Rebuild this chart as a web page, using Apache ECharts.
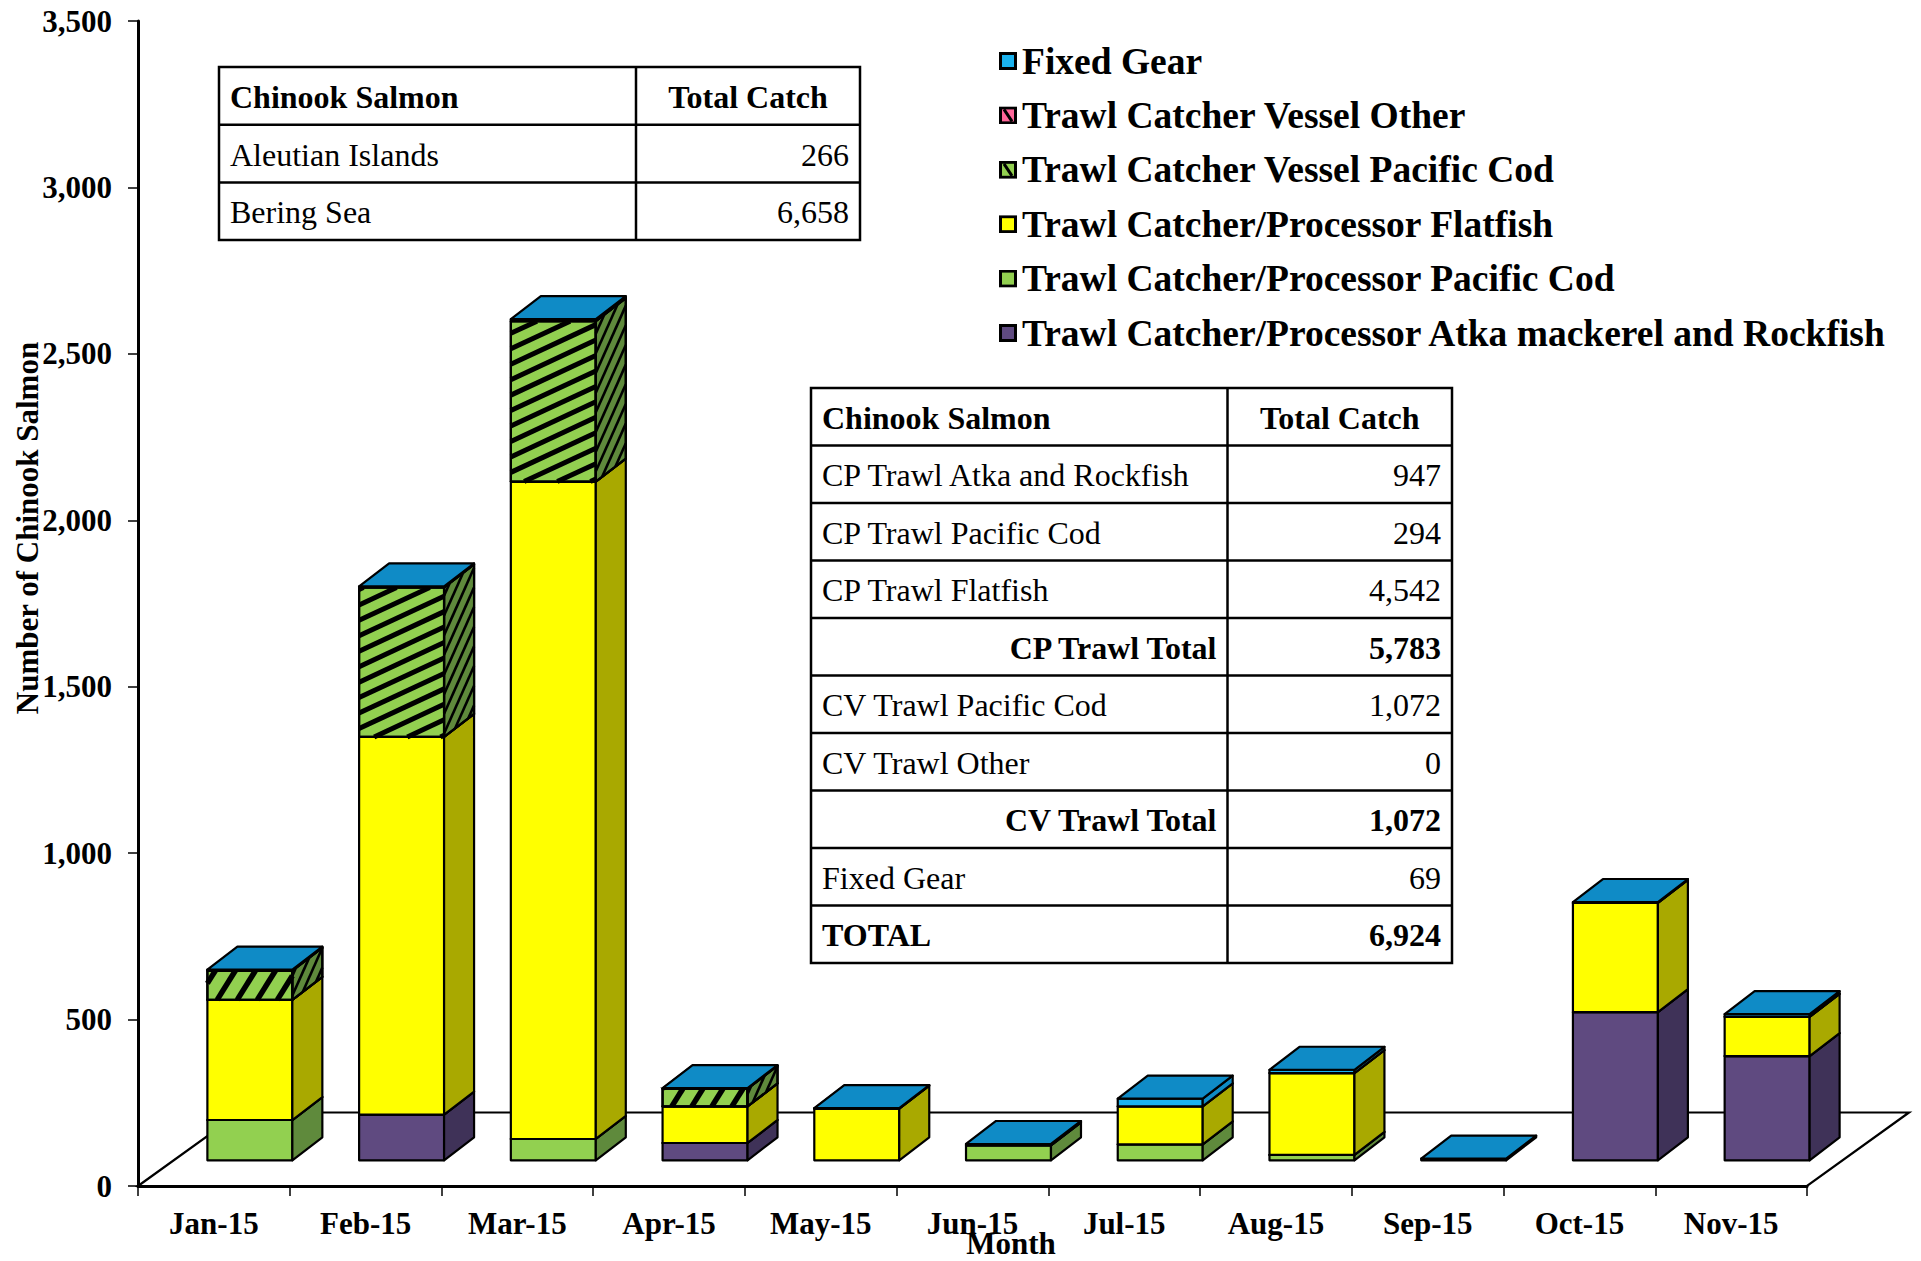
<!DOCTYPE html>
<html>
<head>
<meta charset="utf-8">
<script src="https://cdn.jsdelivr.net/npm/echarts@6/dist/echarts.min.js"></script>
<style>
html,body{margin:0;padding:0;background:#fff;}
#chart{width:1921px;height:1261px;}
</style>
</head>
<body>
<div id="chart"></div>
<script>
// ---------------- DATA ----------------
const months = ['Jan-15','Feb-15','Mar-15','Apr-15','May-15','Jun-15','Jul-15','Aug-15','Sep-15','Oct-15','Nov-15'];
const cpAtkaRockfish = [0, 137, 0, 52, 0, 0, 0, 0, 0, 445, 313];
const cpPacificCod   = [121, 0, 64, 0, 0, 45, 48, 16, 0, 0, 0];
const cpFlatfish     = [361, 1135, 1975, 110, 155, 0, 114, 246, 0, 328, 118];
const cvPacificCod   = [88, 449, 482, 53, 0, 0, 0, 0, 0, 0, 0];
const cvOther        = [0, 0, 0, 0, 0, 0, 0, 0, 0, 0, 0];
const fixedGear      = [3, 3, 6, 2, 2, 4, 23, 10, 5, 3, 8];

const table1Labels = ['Chinook Salmon', 'Aleutian Islands', 'Bering Sea'];
const table1Values = ['Total Catch', '266', '6,658'];
const table1Kinds  = ['head', 'normal', 'normal'];

const table2Labels = ['Chinook Salmon', 'CP Trawl Atka and Rockfish', 'CP Trawl Pacific Cod', 'CP Trawl Flatfish',
  'CP Trawl Total', 'CV Trawl Pacific Cod', 'CV Trawl Other', 'CV Trawl Total', 'Fixed Gear', 'TOTAL'];
const table2Values = ['Total Catch', '947', '294', '4,542', '5,783', '1,072', '0', '1,072', '69', '6,924'];
const table2Kinds  = ['head', 'normal', 'normal', 'normal', 'subtotal', 'normal', 'normal', 'subtotal', 'normal', 'total'];

const yAxisTitle = 'Number of Chinook Salmon';
const xAxisTitle = 'Month';

// ---------------- STYLE / GEOMETRY ----------------
const FONT = '"Liberation Serif", "Times New Roman", serif';
const GRID = {left: 138, top: 21, width: 1669, height: 1165};
const FRONT_DX = 36, FRONT_DY = -25.7;   // bar front plane offset from axis plane
const DEPTH_DX = 30, DEPTH_DY = -23;     // bar depth
const FLOOR_DX = 102, FLOOR_DY = -73.5;  // floor depth
const BAR_RATIO = 0.56;

const seriesDefs = [
  {name: 'Trawl Catcher/Processor Atka mackerel and Rockfish', data: cpAtkaRockfish, front: '#5F4A80', side: '#3F3258', top: '#4E3D6B', hatch: false},
  {name: 'Trawl Catcher/Processor Pacific Cod', data: cpPacificCod, front: '#92D050', side: '#5F8A3C', top: '#7AB043', hatch: false},
  {name: 'Trawl Catcher/Processor Flatfish', data: cpFlatfish, front: '#FFFF00', side: '#A9A900', top: '#D6D600', hatch: false},
  {name: 'Trawl Catcher Vessel Pacific Cod', data: cvPacificCod, front: '#92D050', side: '#5F8A3C', top: '#7AB043', hatch: true},
  {name: 'Trawl Catcher Vessel Other', data: cvOther, front: '#FF6699', side: '#B34770', top: '#D9577F', hatch: true},
  {name: 'Fixed Gear', data: fixedGear, front: '#1BB3EF', side: '#0E8BC5', top: '#0F8BC6', hatch: false}
];

// ---------------- HELPERS ----------------
function clipSeg(p, q, poly) {
  let t0 = 0, t1 = 1;
  const d = [q[0] - p[0], q[1] - p[1]];
  let cx = 0, cy = 0;
  poly.forEach(v => { cx += v[0]; cy += v[1]; });
  cx /= poly.length; cy /= poly.length;
  for (let i = 0; i < poly.length; i++) {
    const a = poly[i], b = poly[(i + 1) % poly.length];
    let n = [-(b[1] - a[1]), b[0] - a[0]];
    if (n[0] * (cx - a[0]) + n[1] * (cy - a[1]) < 0) n = [-n[0], -n[1]];
    const num = n[0] * (p[0] - a[0]) + n[1] * (p[1] - a[1]);
    const den = n[0] * d[0] + n[1] * d[1];
    if (Math.abs(den) < 1e-9) { if (num < 0) return null; continue; }
    const t = -num / den;
    if (den > 0) t0 = Math.max(t0, t); else t1 = Math.min(t1, t);
    if (t0 > t1) return null;
  }
  return [[p[0] + t0 * d[0], p[1] + t0 * d[1]], [p[0] + t1 * d[0], p[1] + t1 * d[1]]];
}

function hatchLines(poly, angleDeg, spacing, width) {
  const th = angleDeg * Math.PI / 180;
  const d = [Math.cos(th), -Math.sin(th)];
  const n = [Math.sin(th), Math.cos(th)];
  let mn = Infinity, mx = -Infinity;
  poly.forEach(v => { const c = v[0] * n[0] + v[1] * n[1]; mn = Math.min(mn, c); mx = Math.max(mx, c); });
  const els = [];
  const start = Math.ceil(mn / spacing) * spacing;
  for (let c = start; c <= mx; c += spacing) {
    const P = [n[0] * c, n[1] * c];
    const L = 5000;
    const seg = clipSeg([P[0] - L * d[0], P[1] - L * d[1]], [P[0] + L * d[0], P[1] + L * d[1]], poly);
    if (seg) {
      els.push({type: 'line', shape: {x1: seg[0][0], y1: seg[0][1], x2: seg[1][0], y2: seg[1][1]},
        style: {stroke: '#000', lineWidth: width, lineCap: 'butt'}});
    }
  }
  return els;
}

function makeRender(def) {
  return function (params, api) {
    const cat = api.value(0), base = api.value(1), top = api.value(2);
    if (top - base <= 0) return null;
    const pb = api.coord([cat, base]);
    const pt = api.coord([cat, top]);
    const bw = api.size([1, 0])[0] * BAR_RATIO;
    const x0 = pb[0] + FRONT_DX - bw / 2, x1 = x0 + bw;
    const yb = pb[1] + FRONT_DY, yt = pt[1] + FRONT_DY;
    const front = [[x0, yb], [x1, yb], [x1, yt], [x0, yt]];
    const side = [[x1, yb], [x1 + DEPTH_DX, yb + DEPTH_DY], [x1 + DEPTH_DX, yt + DEPTH_DY], [x1, yt]];
    const topF = [[x0, yt], [x1, yt], [x1 + DEPTH_DX, yt + DEPTH_DY], [x0 + DEPTH_DX, yt + DEPTH_DY]];
    const stroke = {stroke: '#000', lineWidth: 2.2, lineJoin: 'round'};
    const children = [
      {type: 'polygon', shape: {points: front}, style: Object.assign({fill: def.front}, stroke)},
      {type: 'polygon', shape: {points: side}, style: Object.assign({fill: def.side}, stroke)},
      {type: 'polygon', shape: {points: topF}, style: Object.assign({fill: def.top}, stroke)}
    ];
    if (def.hatch) {
      const h = yb - yt;
      const fl = h < 60 ? hatchLines(front, 58, 17, 5.5) : hatchLines(front, 25, 14, 5);
      const sl = hatchLines(side, 66, 8, 2.6);
      fl.concat(sl).forEach(e => children.push(e));
      children.push({type: 'polygon', shape: {points: front}, style: Object.assign({fill: 'none'}, stroke)});
      children.push({type: 'polygon', shape: {points: side}, style: Object.assign({fill: 'none'}, stroke)});
    }
    return {type: 'group', children: children};
  };
}

function legendIcon(fill, hatch) {
  const svg = '<svg xmlns="http://www.w3.org/2000/svg" width="18" height="18">' +
    '<rect x="1.5" y="1.5" width="15" height="15" fill="' + fill + '" stroke="#000" stroke-width="3"/>' +
    (hatch ? '<line x1="5" y1="3" x2="13" y2="15" stroke="#000" stroke-width="3"/>' : '') + '</svg>';
  return 'image://data:image/svg+xml;charset=utf-8,' + encodeURIComponent(svg);
}

function buildTable(x, y, w, split, rowH, labels, values, kinds) {
  const els = [];
  const n = labels.length;
  const pad = 11;
  els.push({type: 'rect', shape: {x: x, y: y, width: w, height: rowH * n}, style: {fill: '#fff', stroke: '#000', lineWidth: 2.5}, z: 20});
  for (let i = 1; i < n; i++) {
    els.push({type: 'line', shape: {x1: x, y1: y + rowH * i, x2: x + w, y2: y + rowH * i}, style: {stroke: '#000', lineWidth: 2.5}, z: 21});
  }
  els.push({type: 'line', shape: {x1: split, y1: y, x2: split, y2: y + rowH * n}, style: {stroke: '#000', lineWidth: 2.5}, z: 21});
  for (let i = 0; i < n; i++) {
    const k = kinds[i];
    const cy = y + rowH * (i + 0.5) + 1;
    const bold = k !== 'normal';
    let lx = x + pad, la = 'left';
    if (k === 'subtotal') { lx = split - pad; la = 'right'; }
    els.push({type: 'text', z: 22, style: {text: labels[i], x: lx, y: cy, align: la, verticalAlign: 'middle',
      fontFamily: FONT, fontSize: 32, fontWeight: bold ? 'bold' : 'normal', fill: '#000'}});
    let vx = x + w - pad, va = 'right';
    if (k === 'head') { vx = (split + x + w) / 2; va = 'center'; }
    els.push({type: 'text', z: 22, style: {text: values[i], x: vx, y: cy, align: va, verticalAlign: 'middle',
      fontFamily: FONT, fontSize: 32, fontWeight: bold ? 'bold' : 'normal', fill: '#000'}});
  }
  return els;
}

// ---------------- BUILD ----------------
const cumulative = months.map(() => 0);
const series = [];
series.push({
  type: 'custom', name: '__floor', z: 1, silent: true,
  data: [[0]],
  renderItem: function (params, api) {
    const cs = params.coordSys;
    const fl = [cs.x, cs.y + cs.height], fr = [cs.x + cs.width, cs.y + cs.height];
    const pts = [fl, fr, [fr[0] + FLOOR_DX, fr[1] + FLOOR_DY], [fl[0] + FLOOR_DX, fl[1] + FLOOR_DY]];
    return {type: 'polygon', shape: {points: pts}, style: {fill: '#fff', stroke: '#000', lineWidth: 2.2}};
  }
});
seriesDefs.forEach(def => {
  const data = def.data.map((v, i) => {
    const b = cumulative[i];
    cumulative[i] += v;
    return [i, b, b + v];
  });
  series.push({
    type: 'custom', name: def.name, z: 2,
    encode: {x: 0, y: [1, 2]},
    itemStyle: {color: def.front},
    data: data,
    renderItem: makeRender(def)
  });
});

const legendData = seriesDefs.slice().reverse().map(def => ({name: def.name, icon: legendIcon(def.front, def.hatch)}));

const graphic = []
  .concat(buildTable(219, 67, 641, 636, 57.7, table1Labels, table1Values, table1Kinds))
  .concat(buildTable(811, 388, 641, 1227.5, 57.5, table2Labels, table2Values, table2Kinds));
graphic.push({type: 'text', z: 22, rotation: Math.PI / 2, x: 27, y: 528,
  style: {text: yAxisTitle, align: 'center', verticalAlign: 'middle', fontFamily: FONT, fontSize: 31, fontWeight: 'bold', fill: '#000'}});
graphic.push({type: 'text', z: 22, x: 1011, y: 1243,
  style: {text: xAxisTitle, align: 'center', verticalAlign: 'middle', fontFamily: FONT, fontSize: 31, fontWeight: 'bold', fill: '#000'}});

const chart = echarts.init(document.getElementById('chart'), null, {renderer: 'svg', width: 1921, height: 1261});
chart.setOption({
  backgroundColor: '#fff',
  animation: false,
  grid: Object.assign({containLabel: false, outerBoundsMode: 'none'}, GRID),
  xAxis: {
    type: 'category', data: months, boundaryGap: true,
    axisLine: {show: true, lineStyle: {color: '#000', width: 3}},
    axisTick: {show: true, length: 10, inside: false, lineStyle: {color: '#000', width: 1.5}},
    axisLabel: {margin: 22, color: '#000', fontFamily: FONT, fontSize: 31, fontWeight: 'bold', interval: 0},
    splitLine: {show: false}, z: 3
  },
  yAxis: {
    type: 'value', min: 0, max: 3500, interval: 500,
    axisLine: {show: true, lineStyle: {color: '#000', width: 3}},
    axisTick: {show: true, length: 10, inside: false, lineStyle: {color: '#000', width: 1.5}},
    axisLabel: {margin: 26, color: '#000', fontFamily: FONT, fontSize: 31, fontWeight: 'bold',
      formatter: v => v.toLocaleString('en-US')},
    splitLine: {show: false}, z: 3
  },
  legend: {
    orient: 'vertical', left: 994, top: 36,
    itemWidth: 18, itemHeight: 18, itemGap: 14.4,
    selectedMode: false,
    data: legendData,
    textStyle: {color: '#000', fontFamily: FONT, fontSize: 37.5, fontWeight: 'bold', lineHeight: 40}
  },
  graphic: graphic,
  series: series
});
</script>
</body>
</html>
